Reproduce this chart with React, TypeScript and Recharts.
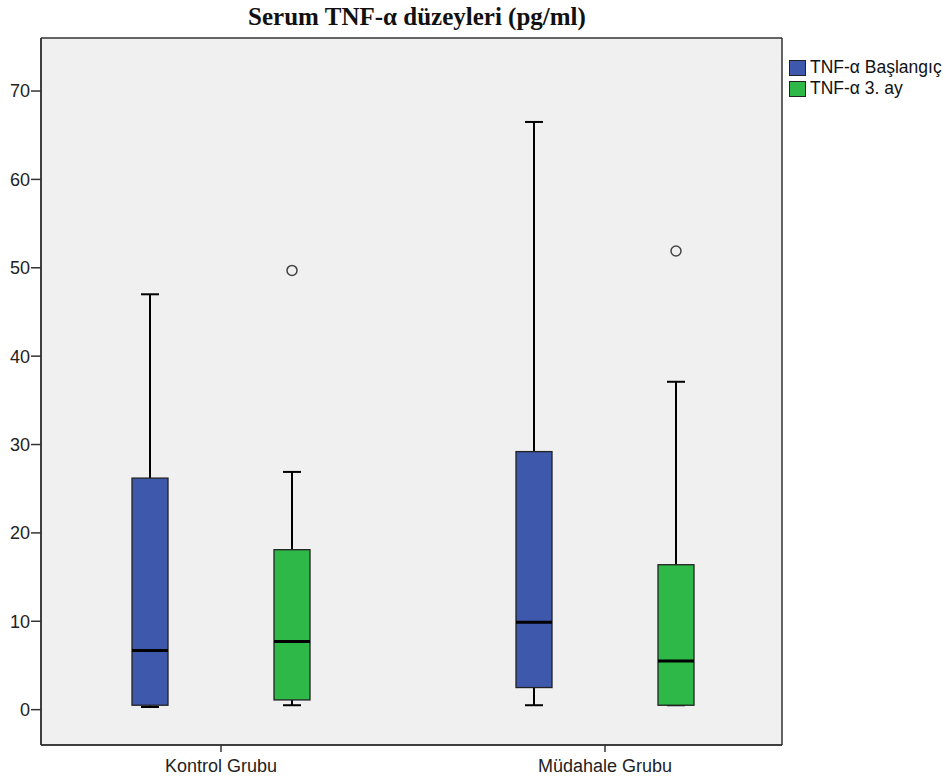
import React from "react";
import { ComposedChart, Bar, XAxis, YAxis, CartesianGrid, Legend } from "recharts";

// categories
const groups = ["Kontrol Grubu", "Müdahale Grubu"];

// TNF-α Başlangıç (box stats per group)
const baslangicMin = [0.3, 0.5];
const baslangicQ1 = [0.5, 2.5];
const baslangicMedian = [6.7, 9.9];
const baslangicQ3 = [26.2, 29.2];
const baslangicMax = [47.0, 66.5];
const baslangicOutliers: number[][] = [[], []];

// TNF-α 3. ay
const ucAyMin = [0.5, 0.5];
const ucAyQ1 = [1.1, 0.5];
const ucAyMedian = [7.7, 5.5];
const ucAyQ3 = [18.1, 16.4];
const ucAyMax = [26.9, 37.1];
const ucAyOutliers: number[][] = [[49.7], [51.9]];

const yTicks = [0, 10, 20, 30, 40, 50, 60, 70];

const BLUE = "#3E58AC";
const GREEN = "#2EB848";
const FONT = "'Liberation Sans', Arial, sans-serif";

type Stats = { min: number; q1: number; median: number; q3: number; max: number; outliers: number[] };

const data = groups.map((g, i) => ({
  group: g,
  baslangic: {
    min: baslangicMin[i],
    q1: baslangicQ1[i],
    median: baslangicMedian[i],
    q3: baslangicQ3[i],
    max: baslangicMax[i],
    outliers: baslangicOutliers[i],
  } as Stats,
  ucAy: {
    min: ucAyMin[i],
    q1: ucAyQ1[i],
    median: ucAyMedian[i],
    q3: ucAyQ3[i],
    max: ucAyMax[i],
    outliers: ucAyOutliers[i],
  } as Stats,
}));

// the bar spans min..max, everything else is placed on the same linear scale
function BoxShape(props: any) {
  const { x, y, width, height, stats, color } = props;
  const s: Stats = stats;
  const top = Math.min(y, y + height);
  const bottom = Math.max(y, y + height);
  const k = (bottom - top) / (s.max - s.min);
  const py = (v: number) => bottom - (v - s.min) * k;
  const cx = x + width / 2;
  const cap = 9;
  return (
    <g>
      <line x1={cx} x2={cx} y1={py(s.max)} y2={py(s.q3)} stroke="#000" strokeWidth={2} />
      <line x1={cx} x2={cx} y1={py(s.q1)} y2={py(s.min)} stroke="#000" strokeWidth={2} />
      <line x1={cx - cap} x2={cx + cap} y1={py(s.max)} y2={py(s.max)} stroke="#000" strokeWidth={2} />
      <line x1={cx - cap} x2={cx + cap} y1={py(s.min)} y2={py(s.min)} stroke="#000" strokeWidth={2} />
      <rect
        x={x}
        y={py(s.q3)}
        width={width}
        height={py(s.q1) - py(s.q3)}
        fill={color}
        stroke="#222"
        strokeWidth={1.3}
      />
      <line x1={x} x2={x + width} y1={py(s.median)} y2={py(s.median)} stroke="#000" strokeWidth={3} />
      {s.outliers.map((o, j) => (
        <circle key={j} cx={cx} cy={py(o)} r={5} fill="none" stroke="#444" strokeWidth={1.5} />
      ))}
    </g>
  );
}

function LegendBox() {
  const items = [
    { name: "TNF-α Başlangıç", color: BLUE },
    { name: "TNF-α 3. ay", color: GREEN },
  ];
  return (
    <div style={{ fontFamily: FONT, fontSize: 17.5, color: "#111", lineHeight: 1 }}>
      {items.map((it) => (
        <div key={it.name} style={{ display: "flex", alignItems: "center", height: 21 }}>
          <span
            style={{
              display: "inline-block",
              width: 15,
              height: 14,
              background: it.color,
              border: "1px solid #222",
              marginRight: 4,
            }}
          />
          <span>{it.name}</span>
        </div>
      ))}
    </div>
  );
}

export default function App() {
  return (
    <div style={{ position: "absolute", left: 0, top: 0, width: 945, height: 778, background: "#fff" }}>
      <div
        style={{
          position: "absolute",
          left: 0,
          top: 3,
          width: 834,
          textAlign: "center",
          fontFamily: "'Liberation Serif', 'Times New Roman', serif",
          fontWeight: "bold",
          fontSize: 25,
          color: "#111",
        }}
      >
        Serum TNF-α düzeyleri (pg/ml)
      </div>
      <ComposedChart
        width={945}
        height={778}
        data={data}
        margin={{ top: 38, right: 163, bottom: 0, left: 0 }}
        barGap={106}
      >
        <CartesianGrid
          fill="#f0f0f0"
          stroke="#333"
          strokeWidth={1.5}
          horizontalCoordinatesGenerator={({ offset }: any) => [offset.top, offset.top + offset.height]}
          verticalCoordinatesGenerator={({ offset }: any) => [offset.left, offset.left + offset.width]}
        />
        <XAxis
          dataKey="group"
          type="category"
          height={33}
          padding={{ left: -12, right: -15 }}
          axisLine={{ stroke: "#333", strokeWidth: 1.5 }}
          tickLine={{ stroke: "#333", strokeWidth: 1.5 }}
          tickSize={7}
          tickMargin={7}
          tick={{ fill: "#222", fontSize: 18, fontFamily: FONT }}
        />
        <YAxis
          type="number"
          domain={[-4, 76]}
          ticks={yTicks}
          width={41}
          interval={0}
          axisLine={{ stroke: "#333", strokeWidth: 1.5 }}
          tickLine={{ stroke: "#333", strokeWidth: 1.5 }}
          tickSize={10}
          tickMargin={1}
          tick={{ fill: "#222", fontSize: 18, fontFamily: FONT }}
        />
        <Legend
          layout="horizontal"
          align="center"
          verticalAlign="middle"
          wrapperStyle={{ left: 789, top: 57, width: 156 }}
          content={<LegendBox />}
        />
        <Bar
          name="TNF-α Başlangıç"
          dataKey={(d: any) => [d.baslangic.min, d.baslangic.max]}
          fill={BLUE}
          barSize={36}
          isAnimationActive={false}
          shape={(p: any) => <BoxShape {...p} stats={p.payload.baslangic} color={BLUE} />}
        />
        <Bar
          name="TNF-α 3. ay"
          dataKey={(d: any) => [d.ucAy.min, d.ucAy.max]}
          fill={GREEN}
          barSize={36}
          isAnimationActive={false}
          shape={(p: any) => <BoxShape {...p} stats={p.payload.ucAy} color={GREEN} />}
        />
      </ComposedChart>
    </div>
  );
}
